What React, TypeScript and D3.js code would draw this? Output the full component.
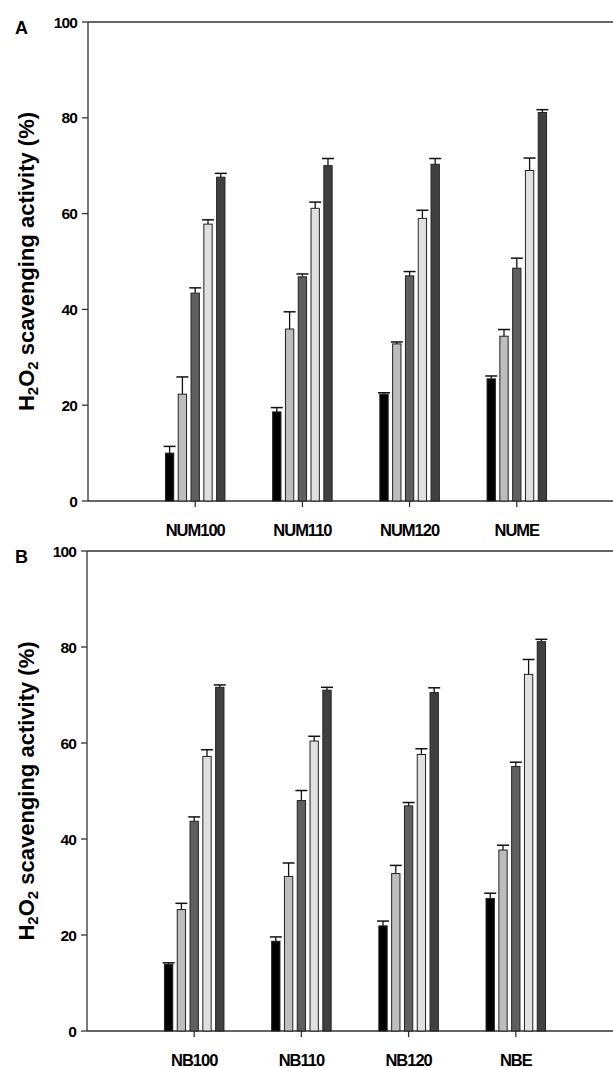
import React from 'react';
import * as d3 from 'd3';

const W = 613;
const H = 1068;

const CATS_A = ['NUM100', 'NUM110', 'NUM120', 'NUME'];
const CATS_B = ['NB100', 'NB110', 'NB120', 'NBE'];
const SERIES = ['s1', 's2', 's3', 's4', 's5'];
const Y_TICKS = [0, 20, 40, 60, 80, 100];

// values per category, one row per category, columns follow SERIES
const VALUES_A = [
  [10.0, 22.3, 43.4, 57.8, 67.6],
  [18.6, 35.9, 46.8, 61.1, 70.0],
  [22.3, 32.8, 47.0, 59.0, 70.3],
  [25.5, 34.4, 48.6, 69.0, 81.1],
];
const ERRORS_A = [
  [1.4, 3.6, 1.1, 0.9, 0.8],
  [0.9, 3.6, 0.6, 1.3, 1.5],
  [0.3, 0.4, 0.9, 1.7, 1.2],
  [0.6, 1.4, 2.1, 2.6, 0.6],
];
const VALUES_B = [
  [13.9, 25.3, 43.7, 57.2, 71.6],
  [18.7, 32.2, 48.0, 60.4, 71.0],
  [21.9, 32.8, 46.9, 57.6, 70.5],
  [27.6, 37.7, 55.1, 74.3, 81.1],
];
const ERRORS_B = [
  [0.3, 1.3, 0.9, 1.4, 0.5],
  [0.9, 2.8, 2.1, 1.0, 0.6],
  [1.0, 1.7, 0.7, 1.2, 1.0],
  [1.1, 1.0, 0.9, 3.1, 0.5],
];

const FILLS: Record<string, string> = {
  s1: '#000000',
  s2: '#bdbdbd',
  s3: '#5f5f5f',
  s4: '#e0e0e0',
  s5: '#404040',
};

const FONT = '"Liberation Sans", Arial, sans-serif';
const AXIS = '#333';

type PanelProps = {
  letter: string;
  cats: string[];
  values: number[][];
  errors: number[][];
  axisX: number;
  top: number;
  bottom: number;
};

function Panel({ letter, cats, values, errors, axisX, top, bottom }: PanelProps) {
  const y = d3.scaleLinear().domain([0, 100]).range([bottom, top]);
  const x = d3.scaleLinear().domain([0, 5]).range([axisX, axisX + 5 * 107.2]);
  const inner = d3.scaleBand().domain(SERIES).range([-29.75, 29.75]).paddingInner(0.35);
  const bw = inner.bandwidth();

  return (
    <g>
      <text x={15} y={top + 12} fontSize={18} fontWeight="bold" fontFamily={FONT}>
        {letter}
      </text>
      <line x1={axisX} x2={W} y1={y(100)} y2={y(100)} stroke={AXIS} strokeWidth={1.3} />
      <line x1={axisX} x2={W} y1={y(0)} y2={y(0)} stroke={AXIS} strokeWidth={1.3} />
      <line x1={axisX} x2={axisX} y1={y(100)} y2={y(0)} stroke={AXIS} strokeWidth={1.3} />
      {Y_TICKS.map((t) => (
        <g key={t}>
          <line x1={axisX - 6} x2={axisX} y1={y(t)} y2={y(t)} stroke={AXIS} strokeWidth={1.3} />
          <text
            x={axisX - 11}
            y={y(t) + 5.5}
            textAnchor="end"
            fontSize={15.5}
            fontWeight="bold"
            letterSpacing={-0.9}
            fontFamily={FONT}
          >
            {t}
          </text>
        </g>
      ))}
      <text
        transform={`translate(34, ${(top + bottom) / 2}) rotate(-90)`}
        textAnchor="middle"
        fontSize={22}
        fontWeight="bold"
        fontFamily={FONT}
      >
        H<tspan fontSize={15} dy={4}>2</tspan>
        <tspan dy={-4}>O</tspan>
        <tspan fontSize={15} dy={4}>2</tspan>
        <tspan dy={-4}> scavenging activity (%)</tspan>
      </text>
      {cats.map((c, i) => {
        const cx = x(i + 1);
        return (
          <g key={c}>
            <line x1={cx} x2={cx} y1={y(0)} y2={y(0) + 6} stroke={AXIS} strokeWidth={1.3} />
            <text
              x={cx}
              y={y(0) + 35}
              textAnchor="middle"
              fontSize={16.5}
              fontWeight="bold"
              letterSpacing={-1}
              fontFamily={FONT}
            >
              {c}
            </text>
            {SERIES.map((s, j) => {
              const v = values[i][j];
              const e = errors[i][j];
              const bx = cx + (inner(s) ?? 0);
              const mid = bx + bw / 2;
              return (
                <g key={s}>
                  <line x1={mid} x2={mid} y1={y(v)} y2={y(v + e)} stroke="#111" strokeWidth={1.3} />
                  <line x1={mid - 6} x2={mid + 6} y1={y(v + e)} y2={y(v + e)} stroke="#111" strokeWidth={1.5} />
                  <rect
                    x={bx}
                    y={y(v)}
                    width={bw}
                    height={y(0) - y(v)}
                    fill={FILLS[s]}
                    stroke="#222"
                    strokeWidth={1}
                  />
                </g>
              );
            })}
          </g>
        );
      })}
    </g>
  );
}

export default function App() {
  return (
    <svg
      width={W}
      height={H}
      viewBox={`0 0 ${W} ${H}`}
      style={{ position: 'absolute', left: 0, top: 0, background: '#fff' }}
    >
      <rect width={W} height={H} fill="#fff" />
      <Panel letter="A" cats={CATS_A} values={VALUES_A} errors={ERRORS_A} axisX={88} top={22} bottom={501} />
      <Panel letter="B" cats={CATS_B} values={VALUES_B} errors={ERRORS_B} axisX={87} top={551} bottom={1031} />
    </svg>
  );
}
